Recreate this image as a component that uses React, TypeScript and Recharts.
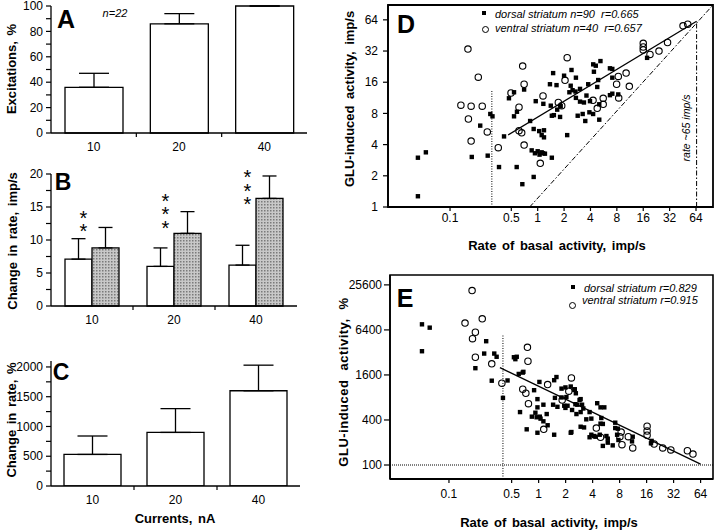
import React from 'react';
import {
  BarChart, Bar, XAxis, YAxis, ErrorBar, LabelList,
  ScatterChart, Scatter, ReferenceLine, ReferenceArea,
} from 'recharts';

const FONT = '"Liberation Sans", Arial, Helvetica, sans-serif';

// ---------- shared categories (currents, nA)
const currents = ['10', '20', '40'];
const catTicks = [0.5, 1, 1.5, 2, 2.5];

// ---------- Panel A: excitations, %
const excitations = [36, 86, 100];
const excitationsUpper = [47, 94, 100];
const ticksA = [0, 10, 20, 30, 40, 50, 60, 70, 80, 90, 100];

// ---------- Panel B: change in rate, imp/s
const changeWhite = [7.1, 6.0, 6.2];
const changeWhiteUpper = [10.2, 8.8, 9.2];
const changeGrey = [8.8, 11.0, 16.3];
const changeGreyUpper = [11.9, 14.3, 19.7];
const starCount = [2, 3, 3];
const starLevel = [12.4, 13.2, 16.8];
const ticksB = [0, 2.5, 5, 7.5, 10, 12.5, 15, 17.5, 20];

// ---------- Panel C: change in rate, %
const changePct = [530, 900, 1600];
const changePctUpper = [840, 1300, 2030];
const ticksC = [0, 250, 500, 750, 1000, 1250, 1500, 1750, 2000];
const domainC = [0, 2100];

// ---------- Panel D: GLU-induced activity (imp/s) vs basal rate
const dDomX = [0.0196, 100];
const dDomY = [1, 89];
const dTicksX = [0.1, 0.5, 1, 2, 4, 8, 16, 32, 64];
const dTicksY = [1, 2, 4, 8, 16, 32, 64];
const dFit = [[0.46, 4.96], [65, 62]];
const dUnity = [[0.81, 1], [100, 89]];
const dThreshold = [[0.3, 1], [0.3, 13.5]];
const dMaxRate = [[65, 1], [65, 62]];
const dDorsal = [
  [0.043, 2.99], [0.053, 3.37], [0.043, 1.27], [0.177, 3.04], [0.269, 3.13], [0.288, 7.9],
  [0.305, 7.5], [0.221, 6.1], [0.413, 4.8], [0.362, 2.43], [0.576, 2.43], [0.668, 1.66],
  [0.9, 1.95], [0.47, 11.2], [0.537, 12.8], [0.7, 13.6], [0.95, 10.5], [1.16, 9.9],
  [0.58, 8.3], [0.537, 7.5], [0.82, 6.76], [0.9, 5.66], [1.04, 5.4], [0.854, 3.52],
  [0.93, 3.3], [1.0, 3.45], [1.05, 3.2], [1.15, 3.3], [1.5, 19.6], [1.38, 15.3],
  [1.64, 15.0], [2.0, 18.5], [2.43, 21], [2.73, 17.7], [2.38, 14.8], [2.5, 13.4],
  [2.3, 12.8], [2.7, 13.0], [3.04, 13.8], [3.77, 15.3], [4.3, 23.8], [4.6, 23.1],
  [5.2, 25.6], [4.38, 20.2], [4.9, 16.8], [4.78, 14.4], [6.67, 21.8], [7.1, 21.5],
  [7.1, 17.7], [6.67, 12.0], [7.1, 12.4], [8.3, 12.2], [3.6, 11.9], [3.95, 10.5],
  [2.73, 11.3], [3.04, 10.4], [3.37, 10.2], [5.04, 9.8], [1.41, 9.5], [1.83, 9.4],
  [1.67, 8.7], [1.45, 7.6], [1.53, 7.7], [1.8, 7.4], [2.86, 7.6], [3.26, 7.9],
  [3.89, 8.2], [4.29, 7.9], [3.49, 6.76], [5.04, 6.96], [2.17, 4.94], [1.18, 5.5],
  [1.11, 4.94], [1.11, 3.37], [1.21, 3.27], [1.45, 2.99], [1.18, 4.7], [17.7, 27.5],
];
const dVentral = [
  [0.16, 33.4], [0.674, 22.9], [0.21, 17.9], [0.7, 15.3], [0.496, 12.6], [0.133, 9.6],
  [0.174, 9.4], [0.233, 9.4], [0.612, 9.2], [0.162, 7.07], [0.266, 5.3], [0.657, 5.2],
  [0.612, 5.45], [0.174, 4.33], [0.355, 3.74], [0.7, 3.96], [1.07, 2.64], [1.15, 11.8],
  [2.17, 27.6], [2.05, 16.7], [1.72, 10.2], [1.88, 9.5], [4.28, 10.7], [4.78, 8.95],
  [5.59, 11.2], [5.59, 9.8], [8.31, 18.2], [7.95, 15.3], [10.2, 19.6], [11.1, 14.6],
  [8.4, 11.3], [16, 38], [16, 35], [16, 32.8], [19.1, 29.7], [24.2, 32], [30.3, 38.7],
  [45.5, 56], [51.5, 58],
];

// ---------- Panel E: GLU-induced activity (%) vs basal rate
const eDomX = [0.022, 88];
const eDomY = [65, 34700];
const eTicksX = [0.1, 0.5, 1, 2, 4, 8, 16, 32, 64];
const eTicksY = [100, 400, 1600, 6400, 25600];
const eFit = [[0.37, 2000], [64, 103]];
const eThreshold = [[0.4, 65], [0.4, 5500]];
const eBaseline = 100;
const eDorsal = [
  [0.05, 7600], [0.061, 6860], [0.05, 3320], [0.26, 4520], [0.247, 3090], [0.32, 3090],
  [0.34, 2800], [0.197, 1970], [0.3, 1340], [0.45, 1350], [0.4, 790], [0.53, 2760],
  [0.57, 2800], [0.55, 2600], [0.6, 1650], [0.665, 1720], [0.676, 1760], [0.62, 510],
  [0.736, 300], [0.97, 270], [0.97, 760], [0.92, 500], [0.95, 435], [1.05, 417],
  [1.13, 384], [1.02, 1290], [1.13, 640], [0.89, 1000], [0.97, 590], [1.03, 443],
  [1.23, 480], [0.84, 443], [1.26, 340], [1.58, 1500], [1.49, 1360], [1.8, 1050],
  [1.99, 1090], [2.53, 1030], [1.52, 790], [1.45, 640], [1.62, 600], [1.93, 620],
  [1.99, 580], [2.1, 620], [2.57, 650], [2.94, 760], [2.7, 640], [3.05, 640],
  [2.36, 544], [2.64, 480], [2.94, 510], [3.15, 570], [3.7, 510], [3.4, 408],
  [3.87, 417], [2.94, 325], [3.21, 318], [1.49, 254], [2.32, 276], [5.0, 425],
  [4.9, 357], [4.5, 670], [4.9, 590], [5.4, 590], [3.87, 254], [4.3, 239],
  [4.8, 254], [5.2, 180], [5.7, 244], [5.9, 225], [5.9, 199], [6.7, 183],
  [7.15, 368], [7.65, 306], [7.5, 254], [11, 207], [17.9, 195], [2.28, 270],
  [3.7, 235], [4.14, 244], [5.2, 354], [7.15, 312], [7.76, 216], [11.2, 239],
  [18.2, 210], [2.28, 1120], [2.5, 1010], [2.6, 910], [1.8, 800], [2.04, 810], [2.86, 740],
];
const eVentral = [
  [0.181, 21500], [0.151, 7900], [0.235, 9000], [0.197, 5960], [0.183, 4890], [0.197, 2760],
  [0.3, 2250], [0.389, 1240], [0.75, 3750], [0.76, 2440], [0.665, 1030], [0.72, 910],
  [0.77, 660], [1.14, 300], [1.26, 1190], [2.32, 1460], [2.17, 970], [1.83, 740],
  [4.4, 312], [4.9, 235], [8.32, 276], [8.06, 239], [8.5, 187], [10, 239], [11.2, 169],
  [16.2, 330], [16.2, 285], [16.2, 250], [19.4, 191], [24.2, 169], [29.8, 159],
  [45.6, 155], [52.6, 140],
];

// ---------- styles
const axisStyle = { stroke: '#000', strokeWidth: 1.3 };
const tickLineStyle = { stroke: '#000', strokeWidth: 1.2 };
const tickText = { fontSize: 12, fill: '#000', fontFamily: FONT };

const CatTick = (props: any) => {
  const { x, y, payload } = props;
  const v = payload.value;
  if (Number.isInteger(v)) {
    return <line x1={x} x2={x} y1={y} y2={y + 4} stroke="#000" strokeWidth={1.2} />;
  }
  return (
    <text x={x} y={y + 18} textAnchor="middle" fontSize={12} fontFamily={FONT} fill="#000">
      {currents[Math.floor(v)]}
    </text>
  );
};

// significance stars drawn as one vertical text run above the white bar
const StarsLabel = (props: any) => {
  const vb = props.viewBox || {};
  const x = vb.x ?? props.x;
  const y = vb.y ?? props.y;
  const w = vb.width ?? props.width;
  const h = vb.height ?? props.height;
  const i = Number(props.value);
  const unit = h / changeWhite[i];
  const zeroY = y + h;
  const base = zeroY - starLevel[i] * unit;
  const cx = x + w * 0.68;
  const n = starCount[i];
  const step = 11.5;
  const topY = base - (n - 1) * step - 6;
  return (
    <text
      x={cx}
      y={topY}
      fontSize={20}
      fontFamily={FONT}
      fill="#000"
      style={{ writingMode: 'vertical-rl', textOrientation: 'upright', letterSpacing: step - 20 } as any}
    >
      {'*'.repeat(n)}
    </text>
  );
};

const SquareDot = (p: any) => (
  <rect x={p.cx - 2.2} y={p.cy - 2.2} width={4.4} height={4.4} fill="#000" />
);
const OpenDot = (p: any) => (
  <circle cx={p.cx} cy={p.cy} r={3.2} fill="none" stroke="#000" strokeWidth={1.1} />
);

const Txt = ({ cx, cy, size = 12, bold = false, italic = false, rotate = 0, ws = 0, ls = 0, anchor = 'center', children }: any) => (
  <div
    style={{
      position: 'absolute',
      left: cx,
      top: cy,
      transform: `translate(${anchor === 'left' ? '0' : '-50%'},-50%) rotate(${rotate}deg)`,
      fontFamily: FONT,
      fontSize: size,
      fontWeight: bold ? 'bold' : 'normal',
      fontStyle: italic ? 'italic' : 'normal',
      whiteSpace: 'pre',
      lineHeight: 1,
      wordSpacing: ws,
      letterSpacing: ls,
      color: '#000',
    }}
  >
    {children}
  </div>
);

const seg = (s: number[][]) => [{ x: s[0][0], y: s[0][1] }, { x: s[1][0], y: s[1][1] }];

function PanelA() {
  const data = currents.map((c, i) => ({
    pos: i + 0.5,
    v: excitations[i],
    err: [0, excitationsUpper[i] - excitations[i]],
  }));
  return (
    <BarChart width={320} height={160} data={data} margin={{ top: 6, right: 13, bottom: 7, left: 11 }}>
      <XAxis dataKey="pos" type="number" domain={[0, 3]} ticks={catTicks} interval={0} tick={<CatTick />}
        tickLine={false} tickSize={0} tickMargin={0} height={20} axisLine={axisStyle} allowDataOverflow />
      <YAxis type="number" domain={[0, 100]} ticks={ticksA} interval={0} width={40} tickSize={5} tickMargin={3}
        tick={tickText} tickFormatter={(v: number) => (v % 20 === 0 ? String(v) : '')} axisLine={axisStyle} tickLine={tickLineStyle} />
      <Bar dataKey="v" barSize={58} fill="#fff" stroke="#000" strokeWidth={1.3} isAnimationActive={false}>
        <ErrorBar dataKey="err" width={15} stroke="#000" strokeWidth={1.3} direction="y" />
      </Bar>
    </BarChart>
  );
}

function PanelB() {
  const data = currents.map((c, i) => ({
    pos: i + 0.5,
    idx: i,
    white: changeWhite[i],
    whiteErr: [0, changeWhiteUpper[i] - changeWhite[i]],
    grey: changeGrey[i],
    greyErr: [0, changeGreyUpper[i] - changeGrey[i]],
  }));
  return (
    <BarChart width={310} height={180} data={data} margin={{ top: 24, right: 13, bottom: 4, left: 11 }} barGap={0}>
      <defs>
        <pattern id="stipple" width="3" height="3" patternUnits="userSpaceOnUse">
          <rect width="3" height="3" fill="#c8c8c8" />
          <rect width="1.5" height="1.5" fill="#7a7a7a" />
        </pattern>
      </defs>
      <XAxis dataKey="pos" type="number" domain={[0, 3]} ticks={catTicks} interval={0} tick={<CatTick />}
        tickLine={false} tickSize={0} tickMargin={0} height={20} axisLine={axisStyle} allowDataOverflow />
      <YAxis type="number" domain={[0, 20]} ticks={ticksB} interval={0} width={40} tickSize={5} tickMargin={3}
        tick={tickText} tickFormatter={(v: number) => (v % 5 === 0 ? String(v) : '')} axisLine={axisStyle} tickLine={tickLineStyle} />
      <Bar dataKey="white" barSize={27} fill="#fff" stroke="#000" strokeWidth={1.3} isAnimationActive={false}>
        <ErrorBar dataKey="whiteErr" width={7} stroke="#000" strokeWidth={1.3} direction="y" />
        <LabelList dataKey="idx" content={<StarsLabel />} />
      </Bar>
      <Bar dataKey="grey" barSize={27} fill="url(#stipple)" stroke="#000" strokeWidth={1.3} isAnimationActive={false}>
        <ErrorBar dataKey="greyErr" width={7} stroke="#000" strokeWidth={1.3} direction="y" />
      </Bar>
    </BarChart>
  );
}

function PanelC() {
  const data = currents.map((c, i) => ({
    pos: i + 0.5,
    v: changePct[i],
    err: [0, changePctUpper[i] - changePct[i]],
  }));
  return (
    <BarChart width={310} height={175} data={data} margin={{ top: 21, right: 10, bottom: 9, left: 11 }}>
      <XAxis dataKey="pos" type="number" domain={[0, 3]} ticks={catTicks} interval={0} tick={<CatTick />}
        tickLine={false} tickSize={0} tickMargin={0} height={20} axisLine={axisStyle} allowDataOverflow />
      <YAxis type="number" domain={domainC} ticks={ticksC} interval={0} width={40} tickSize={5} tickMargin={3}
        tick={tickText} tickFormatter={(v: number) => (v % 500 === 0 ? String(v) : '')} axisLine={axisStyle} tickLine={tickLineStyle} allowDataOverflow />
      <Bar dataKey="v" barSize={57} fill="#fff" stroke="#000" strokeWidth={1.3} isAnimationActive={false}>
        <ErrorBar dataKey="err" width={15} stroke="#000" strokeWidth={1.3} direction="y" />
      </Bar>
    </BarChart>
  );
}

function PanelD() {
  const dorsal = dDorsal.map(([x, y]) => ({ x, y }));
  const ventral = dVentral.map(([x, y]) => ({ x, y }));
  return (
    <ScatterChart width={420} height={230} margin={{ top: 5, right: 7, bottom: 3, left: 48 }}>
      <XAxis type="number" dataKey="x" scale="log" domain={dDomX} ticks={dTicksX} interval={0} allowDataOverflow
        height={20} tickSize={4} tickMargin={2} tick={tickText} tickFormatter={(v: number) => String(v)}
        axisLine={{ stroke: '#000', strokeWidth: 1.6 }} tickLine={tickLineStyle} />
      <YAxis type="number" dataKey="y" scale="log" domain={dDomY} ticks={dTicksY} interval={0} allowDataOverflow
        width={40} tickSize={5} tickMargin={5} tick={tickText} tickFormatter={(v: number) => String(v)}
        axisLine={{ stroke: '#000', strokeWidth: 1.6 }} tickLine={tickLineStyle} />
      <ReferenceArea x1={dDomX[0]} x2={dDomX[1]} y1={dDomY[0]} y2={dDomY[1]} fill="none" fillOpacity={0}
        stroke="#000" strokeWidth={1.8} ifOverflow="visible" />
      <ReferenceLine segment={seg(dThreshold)} stroke="#000" strokeWidth={1} strokeDasharray="1 1.5" ifOverflow="visible" />
      <ReferenceLine segment={seg(dUnity)} stroke="#000" strokeWidth={1} strokeDasharray="5 2 1.5 2" ifOverflow="visible" />
      <ReferenceLine segment={seg(dMaxRate)} stroke="#000" strokeWidth={1} strokeDasharray="5 2 1.5 2" ifOverflow="visible" />
      <ReferenceLine segment={seg(dFit)} stroke="#000" strokeWidth={1.3} ifOverflow="visible" />
      <Scatter data={dorsal} shape={(p: any) => <SquareDot {...p} />} isAnimationActive={false} />
      <Scatter data={ventral} shape={(p: any) => <OpenDot {...p} />} isAnimationActive={false} />
    </ScatterChart>
  );
}

function PanelE() {
  const dorsal = eDorsal.map(([x, y]) => ({ x, y }));
  const ventral = eVentral.map(([x, y]) => ({ x, y }));
  return (
    <ScatterChart width={420} height={240} margin={{ top: 15, right: 7, bottom: 3, left: 50 }}>
      <XAxis type="number" dataKey="x" scale="log" domain={eDomX} ticks={eTicksX} interval={0} allowDataOverflow
        height={18} tickSize={4} tickMargin={6} tick={tickText} tickFormatter={(v: number) => String(v)}
        axisLine={{ stroke: '#000', strokeWidth: 2 }} tickLine={tickLineStyle} />
      <YAxis type="number" dataKey="y" scale="log" domain={eDomY} ticks={eTicksY} interval={0} allowDataOverflow
        width={40} tickSize={6} tickMargin={2} tick={tickText} tickFormatter={(v: number) => String(v)}
        axisLine={{ stroke: '#000', strokeWidth: 1.6 }} tickLine={tickLineStyle} />
      <ReferenceArea x1={eDomX[0]} x2={eDomX[1]} y1={eDomY[0]} y2={eDomY[1]} fill="none" fillOpacity={0}
        stroke="#000" strokeWidth={1.6} ifOverflow="visible" />
      <ReferenceLine y={eBaseline} stroke="#000" strokeWidth={1} strokeDasharray="1 1" ifOverflow="visible" />
      <ReferenceLine segment={seg(eThreshold)} stroke="#000" strokeWidth={1} strokeDasharray="1 1.5" ifOverflow="visible" />
      <ReferenceLine segment={seg(eFit)} stroke="#000" strokeWidth={1.3} ifOverflow="visible" />
      <Scatter data={dorsal} shape={(p: any) => <SquareDot {...p} />} isAnimationActive={false} />
      <Scatter data={ventral} shape={(p: any) => <OpenDot {...p} />} isAnimationActive={false} />
    </ScatterChart>
  );
}

const Box = ({ left, top, children }: any) => (
  <div style={{ position: 'absolute', left, top }}>{children}</div>
);

const LegendSquare = ({ cx, cy }: any) => (
  <div style={{ position: 'absolute', left: cx - 2, top: cy - 2, width: 4, height: 4, background: '#000' }} />
);
const LegendCircle = ({ cx, cy }: any) => (
  <div style={{ position: 'absolute', left: cx - 3.5, top: cy - 3.5, width: 5, height: 5, border: '1.1px solid #000', borderRadius: '50%' }} />
);

export default function App() {
  return (
    <div style={{ position: 'absolute', left: 0, top: 0, width: 720, height: 532, background: '#fff', overflow: 'hidden' }}>
      <Box left={0} top={0}><PanelA /></Box>
      <Box left={0} top={150}><PanelB /></Box>
      <Box left={0} top={340}><PanelC /></Box>
      <Box left={300} top={0}><PanelD /></Box>
      <Box left={300} top={260}><PanelE /></Box>

      {/* panel letters */}
      <Txt cx={66} cy={19} size={25} bold>A</Txt>
      <Txt cx={63} cy={182} size={23} bold>B</Txt>
      <Txt cx={61} cy={372} size={23} bold>C</Txt>
      <Txt cx={406} cy={24} size={25} bold>D</Txt>
      <Txt cx={405} cy={298} size={25} bold>E</Txt>

      <Txt cx={115} cy={13} size={11} italic>n=22</Txt>

      {/* left axis titles */}
      <Txt cx={11} cy={69} size={13} bold rotate={-90} ws={2}>Excitations, %</Txt>
      <Txt cx={12} cy={241} size={13} bold rotate={-90} ws={2}>Change in rate, imp/s</Txt>
      <Txt cx={11} cy={420} size={13} bold rotate={-90} ws={2}>Change in rate, %</Txt>
      <Txt cx={175} cy={518} size={13} bold ws={2}>Currents, nA</Txt>

      {/* D texts */}
      <Txt cx={349} cy={99} size={13} bold rotate={-90} ws={3}>GLU-induced activity, imp/s</Txt>
      <Txt cx={557} cy={245} size={13} bold ws={2}>Rate of basal activity, imp/s</Txt>
      <LegendSquare cx={484} cy={13} />
      <LegendCircle cx={485} cy={29} />
      <Txt cx={495} cy={14} size={11} italic anchor="left">dorsal striatum n=90  r=0.665</Txt>
      <Txt cx={495} cy={28} size={11} italic anchor="left">ventral striatum n=40  r=0.657</Txt>
      <Txt cx={686} cy={128} size={10.5} italic rotate={-90}>rate ~65 imp/s</Txt>

      {/* E texts */}
      <Txt cx={343} cy={382} size={13} bold rotate={-90} ws={5} ls={0.5}>GLU-induced activity, %</Txt>
      <Txt cx={549} cy={522} size={13} bold ws={2}>Rate of basal activity, imp/s</Txt>
      <LegendSquare cx={573} cy={287} />
      <LegendCircle cx={572} cy={305} />
      <Txt cx={584} cy={288} size={11} italic anchor="left">dorsal striatum r=0.829</Txt>
      <Txt cx={582} cy={300} size={11} italic anchor="left">ventral striatum r=0.915</Txt>
    </div>
  );
}
